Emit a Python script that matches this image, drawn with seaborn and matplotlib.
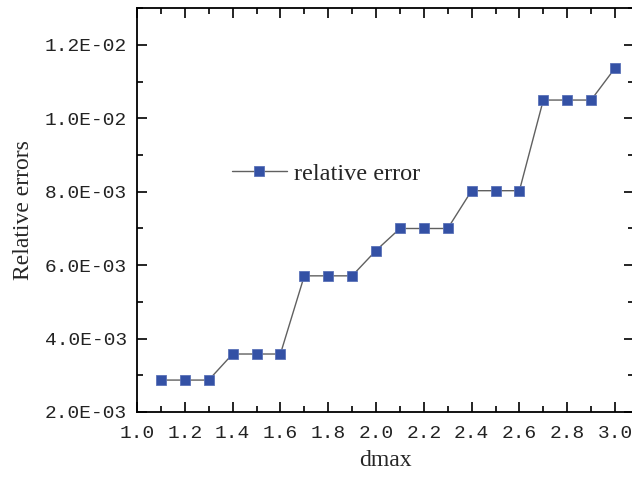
import pandas as pd
import seaborn as sns
import matplotlib.pyplot as plt
from matplotlib.ticker import MultipleLocator, AutoMinorLocator, FuncFormatter

# data
dmax = [1.1, 1.2, 1.3, 1.4, 1.5, 1.6, 1.7, 1.8, 1.9, 2.0,
        2.1, 2.2, 2.3, 2.4, 2.5, 2.6, 2.7, 2.8, 2.9, 3.0]
rel_err = [0.00287, 0.00287, 0.00287, 0.00358, 0.00358, 0.00358,
           0.00571, 0.00571, 0.00571, 0.00640,
           0.00700, 0.00700, 0.00700, 0.00803, 0.00803, 0.00803,
           0.01050, 0.01050, 0.01050, 0.01137]
series_name = "relative error"

df = pd.DataFrame({"dmax": dmax, "err": rel_err, "series": series_name})

sns.set_style("ticks")
plt.rcParams["font.family"] = ["Liberation Serif", "DejaVu Serif"]

fig = plt.figure(figsize=(6.32, 4.78), dpi=100)
# right edge of the axes sits just past the picture, as in the reference
ax = fig.add_axes([137 / 632, 66 / 478, 497 / 632, 403.7 / 478])

sns.lineplot(data=df, x="dmax", y="err", hue="series", palette=["#606060"],
             marker="s", markersize=7, markerfacecolor="#3451a5",
             markeredgecolor="#5a72b8", markeredgewidth=0.6,
             linewidth=1.0, ax=ax)

ax.set_xlim(1.0, 1.0 + 497 / 239)
ax.set_ylim(0.002, 0.013)
ax.xaxis.set_major_locator(MultipleLocator(0.2))
ax.xaxis.set_minor_locator(AutoMinorLocator(2))
ax.yaxis.set_major_locator(MultipleLocator(0.002))
ax.yaxis.set_minor_locator(AutoMinorLocator(2))
ax.yaxis.set_major_formatter(FuncFormatter(lambda v, p: f"{v:.1E}"))
ax.xaxis.set_major_formatter(FuncFormatter(lambda v, p: f"{v:.1f}"))

for s in ax.spines.values():
    s.set_linewidth(1.3)
    s.set_color("black")

ax.tick_params(which="both", direction="in", top=True, right=True,
               width=1.2, color="black")
ax.tick_params(which="major", length=7)
ax.tick_params(which="minor", length=4)
ax.tick_params(axis="y", which="major", pad=7)
ax.tick_params(axis="x", which="major", pad=9)
for lab in ax.get_xticklabels() + ax.get_yticklabels():
    lab.set_family(["Liberation Mono", "DejaVu Sans Mono"])
    lab.set_fontsize(14)
    lab.set_color("#222222")

ax.set_xlabel("dmax", fontsize=17, labelpad=6)
ax.set_ylabel("Relative errors", fontsize=17, labelpad=8)

handles, labels = ax.get_legend_handles_labels()
ax.legend(handles, labels, loc="center left", bbox_to_anchor=(0.191, 0.59),
          frameon=False, fontsize=17.5, borderpad=0, borderaxespad=0,
          handlelength=2.25, handletextpad=0.3)

fig.savefig("out.png", dpi=100)
